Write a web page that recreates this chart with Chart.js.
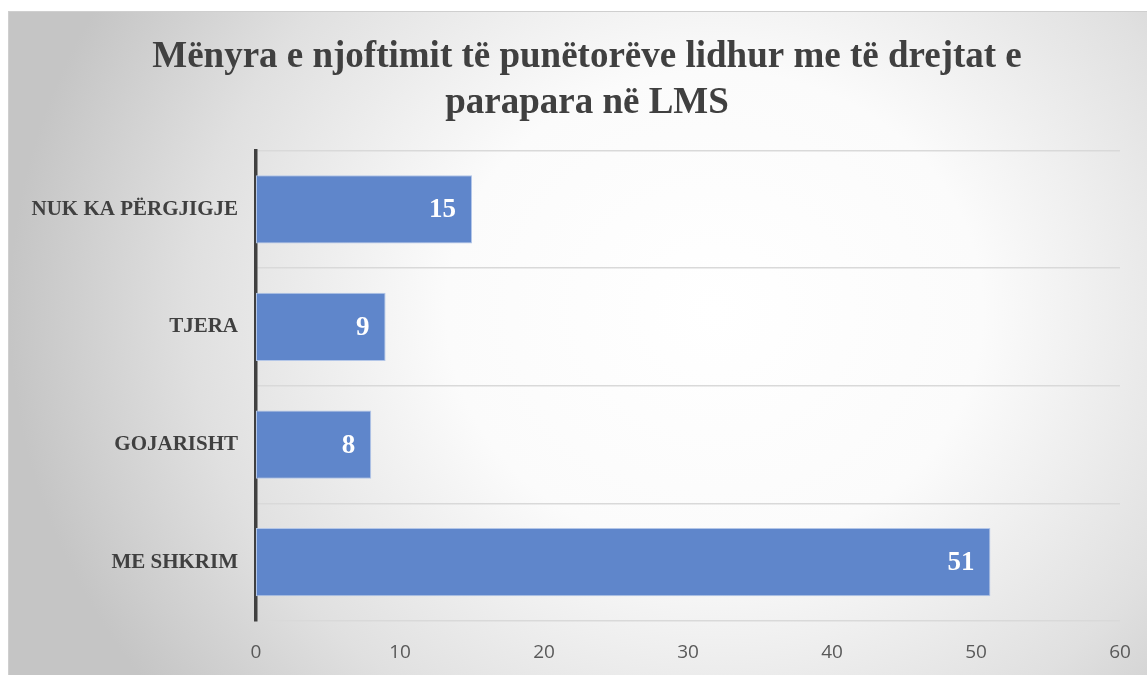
<!DOCTYPE html>
<html>
<head>
<meta charset="utf-8">
<script src="https://cdn.jsdelivr.net/npm/chart.js@4/dist/chart.umd.min.js"></script>
<style>
  html, body { margin: 0; padding: 0; background: #fff; }
  #box {
    position: absolute;
    left: 8px; top: 11px;
    width: 1138px; height: 663px;
    border-left: 1px solid #cfcfcf;
    border-top: 1px solid #cfcfcf;
    background: radial-gradient(ellipse 62% 95% at 62% 45%, #ffffff 0%, #fbfbfb 38%, #e0e0e0 74%, #c5c5c5 100%);
  }
  #chart { display: block; }
</style>
</head>
<body>
<div id="box"><canvas id="chart" width="1138" height="663"></canvas></div>
<script>
const titleLines = ['Mënyra e njoftimit të punëtorëve lidhur me të drejtat e', 'parapara në LMS'];
const categories = ['NUK KA PËRGJIGJE', 'TJERA', 'GOJARISHT', 'ME SHKRIM'];
const counts = [15, 9, 8, 51];
const xTicks = [0, 10, 20, 30, 40, 50, 60];

const serif = "'Liberation Serif', 'Times New Roman', serif";
const textColor = '#404040';

// white value labels near the end of each bar
const valueLabels = {
    id: 'valueLabels',
    afterDatasetsDraw(chart) {
        const ctx = chart.ctx;
        const meta = chart.getDatasetMeta(0);
        ctx.save();
        ctx.font = 'bold 27px ' + serif;
        ctx.fillStyle = '#ffffff';
        ctx.textAlign = 'right';
        ctx.textBaseline = 'middle';
        meta.data.forEach((bar, i) => {
            ctx.fillText(String(counts[i]), bar.x - 16, bar.y + 1);
        });
        ctx.restore();
    }
};

new Chart(document.getElementById('chart').getContext('2d'), {
    type: 'bar',
    data: {
        labels: categories,
        datasets: [{
            data: counts,
            backgroundColor: '#5f86cb',
            borderColor: '#b3c6e8',
            borderWidth: 1,
            borderSkipped: false,
            barPercentage: 0.58,
            categoryPercentage: 1
        }]
    },
    options: {
        indexAxis: 'y',
        responsive: false,
        animation: false,
        layout: { padding: { left: 18, right: 0, top: 0, bottom: 0 } },
        plugins: {
            legend: { display: false },
            tooltip: { enabled: false },
            title: {
                display: true,
                text: titleLines,
                color: textColor,
                font: { family: serif, size: 37, weight: 'bold', lineHeight: 1.25 },
                padding: { top: 22, bottom: 24 }
            }
        },
        scales: {
            x: {
                min: 0,
                max: 60,
                afterBuildTicks: axis => { axis.ticks = xTicks.map(v => ({ value: v })); },
                grid: { display: false, drawTicks: false },
                border: { display: false },
                ticks: {
                    color: '#595959',
                    padding: 20,
                    font: { family: "'Open Sans', 'Liberation Sans', sans-serif", size: 19 }
                },
                afterFit: axis => { axis.height = 54; axis.paddingRight = 27; }
            },
            y: {
                grid: { color: '#d9d9d9', lineWidth: 1.5, drawTicks: false, offset: true },
                border: { color: '#404040', width: 3.5 },
                ticks: {
                    color: textColor,
                    padding: 18,
                    font: { family: serif, size: 21, weight: 'bold' }
                },
                afterFit: axis => { axis.width = 229; }
            }
        }
    },
    plugins: [valueLabels]
});
</script>
</body>
</html>
